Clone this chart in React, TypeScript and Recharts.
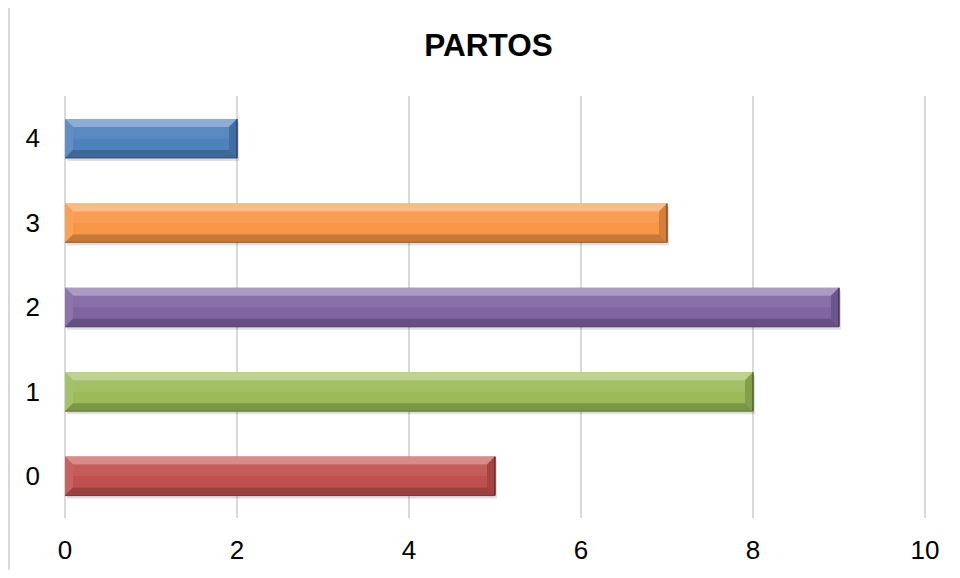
import React from 'react';
import { BarChart, Bar, XAxis, YAxis, CartesianGrid, Cell } from 'recharts';

const categories = ['0', '1', '2', '3', '4'];
const partos = [5, 8, 9, 7, 2];
const barColors = ['#c0504d', '#9bbb59', '#8064a2', '#f79646', '#4f81bd'];
const xTicks = [0, 2, 4, 6, 8, 10];

const data = categories.map((c, i) => ({ name: c, value: partos[i], color: barColors[i] }));

const FONT = "Arial, 'Liberation Sans', sans-serif";

const mix = (hex: string, target: number, amt: number) => {
  const n = parseInt(hex.slice(1), 16);
  const ch = [(n >> 16) & 255, (n >> 8) & 255, n & 255].map(v => Math.round(v + (target - v) * amt));
  return '#' + ch.map(v => v.toString(16).padStart(2, '0')).join('');
};
const lighten = (hex: string, amt: number) => mix(hex, 255, amt);
const darken = (hex: string, amt: number) => mix(hex, 0, amt);

const BevelBar = (props: any) => {
  const { x, y, width, height, payload } = props;
  if (!width || width <= 0) return null;
  const fill: string = payload?.color || props.fill;
  const b = 8;
  return (
    <g>
      <rect x={x + 2} y={y + 3} width={width} height={height} fill="#000" opacity={0.12} />
      <rect x={x} y={y} width={width} height={height} fill={fill} />
      <rect x={x} y={y + b} width={width} height={(height - 2 * b) / 2} fill={lighten(fill, 0.07)} />
      <polygon
        points={`${x},${y} ${x + width},${y} ${x + width - b},${y + b} ${x + b},${y + b}`}
        fill={lighten(fill, 0.35)}
      />
      <polygon
        points={`${x},${y} ${x + b},${y + b} ${x + b},${y + height - b} ${x},${y + height}`}
        fill={lighten(fill, 0.1)}
      />
      <polygon
        points={`${x + width},${y} ${x + width},${y + height} ${x + width - b},${y + height - b} ${x + width - b},${y + b}`}
        fill={darken(fill, 0.15)}
      />
      <polygon
        points={`${x},${y + height} ${x + width},${y + height} ${x + width - b},${y + height - b} ${x + b},${y + height - b}`}
        fill={darken(fill, 0.2)}
      />
      <line x1={x + width} y1={y} x2={x + width} y2={y + height} stroke={darken(fill, 0.5)} strokeWidth={1.5} />
      <line x1={x} y1={y + height} x2={x + width} y2={y + height} stroke={darken(fill, 0.35)} strokeWidth={1} />
    </g>
  );
};

export default function App() {
  return (
    <div style={{ position: 'relative', width: 960, height: 578, margin: -8, overflow: 'hidden', background: '#fff' }}>
      <div
        style={{
          position: 'absolute',
          left: 8,
          top: 6,
          width: 970,
          height: 590,
          border: '2px solid #d9d9d9',
          boxSizing: 'border-box',
        }}
      />
      <div
        style={{
          position: 'absolute',
          left: 0,
          top: 30,
          width: 977,
          textAlign: 'center',
          fontFamily: FONT,
          fontWeight: 'bold',
          fontSize: 31.5,
          lineHeight: 1,
          color: '#000',
        }}
      >
        PARTOS
      </div>
      <div style={{ position: 'absolute', left: 0, top: 0 }}>
        <BarChart
          width={960}
          height={578}
          data={data}
          layout="vertical"
          margin={{ top: 96, right: 35, bottom: 30, left: 25 }}
        >
          <CartesianGrid horizontal={false} vertical stroke="#d9d9d9" strokeWidth={2} />
          <XAxis
            type="number"
            domain={[0, 10]}
            ticks={xTicks}
            height={30}
            axisLine={false}
            tickLine={false}
            tickSize={0}
            tickMargin={23}
            tick={{ fill: '#000', fontSize: 26, fontFamily: FONT }}
          />
          <YAxis
            type="category"
            dataKey="name"
            reversed
            width={40}
            axisLine={false}
            tickLine={false}
            tickSize={0}
            tickMargin={25}
            tick={{ fill: '#000', fontSize: 26, fontFamily: FONT }}
          />
          <Bar dataKey="value" barSize={39} isAnimationActive={false} shape={<BevelBar />}>
            {data.map((d) => (
              <Cell key={d.name} fill={d.color} />
            ))}
          </Bar>
        </BarChart>
      </div>
    </div>
  );
}
